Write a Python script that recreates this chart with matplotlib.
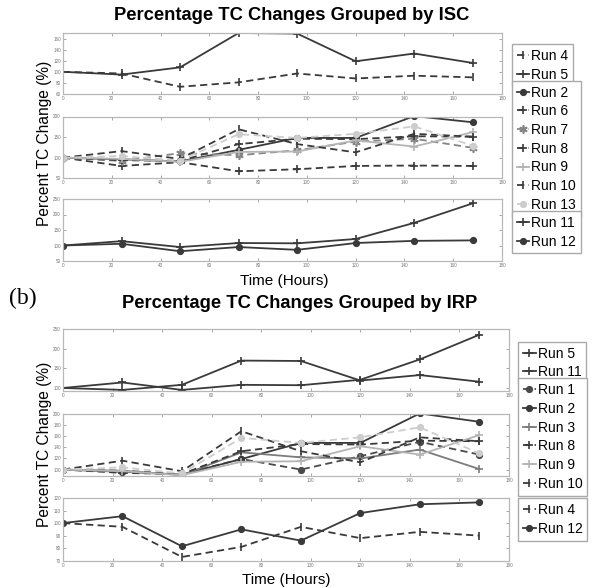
import matplotlib
matplotlib.use('Agg')
import matplotlib.pyplot as plt
import numpy as np

plt.rcParams['font.family'] = ['Liberation Sans', 'DejaVu Sans']

# sampling times (hours)
hours = [0, 24, 48, 72, 96, 120, 144, 168]

# percent TC change per run
run1 = [100, 98, 92, 119, 100, 124, 150, 127]
run2 = [100, 96, 91, 119, 148, 148, 201, 186]
run3 = [100, 98, 90, 131, 122, 120, 136, 101]
run4 = [100, 97, 73, 81, 97, 88, 93, 90]
run5 = [100, 95, 108, 170, 169, 119, 133, 116]
run6 = [100, 80, 89, 67, 72, 80, 81, 80]
run7 = [100, 92, 111, 106, 118, 139, 146, 124]
run8 = [100, 94, 92, 133, 146, 145, 152, 151]
run9 = [100, 97, 90, 114, 115, 142, 127, 162]
run10 = [100, 116, 97, 169, 133, 113, 158, 151]
run11 = [100, 114, 95, 108, 107, 121, 173, 236]
run12 = [100, 105.5, 81.5, 95, 86, 108, 115, 116.5]
run13 = [100, 104, 93, 157, 148, 158, 176, 129]

runs = {'Run 1': run1, 'Run 2': run2, 'Run 3': run3, 'Run 4': run4,
        'Run 5': run5, 'Run 6': run6, 'Run 7': run7, 'Run 8': run8,
        'Run 9': run9, 'Run 10': run10, 'Run 11': run11,
        'Run 12': run12, 'Run 13': run13}

# groupings
isc_groups = [['Run 4', 'Run 5'],
              ['Run 2', 'Run 6', 'Run 7', 'Run 8', 'Run 9', 'Run 10', 'Run 13'],
              ['Run 11', 'Run 12']]
irp_groups = [['Run 5', 'Run 11'],
              ['Run 1', 'Run 2', 'Run 3', 'Run 8', 'Run 9', 'Run 10', 'Run 13'],
              ['Run 4', 'Run 12']]

DASH = (0, (4, 2.4))
DARK = '#3a3a3a'
styles = {
    'Run 1': dict(color='#4a4a4a', ls=DASH, marker='o'),
    'Run 2': dict(color=DARK, ls='-', marker='o'),
    'Run 3': dict(color='#7c7c7c', ls='-', marker='+'),
    'Run 4': dict(color=DARK, ls=DASH, marker='|'),
    'Run 5': dict(color=DARK, ls='-', marker='+'),
    'Run 6': dict(color=DARK, ls=DASH, marker='+'),
    'Run 7': dict(color='#858585', ls=DASH, marker=(6, 2, 0)),
    'Run 8': dict(color=DARK, ls=DASH, marker='+'),
    'Run 9': dict(color='#b4b4b4', ls='-', marker='+'),
    'Run 10': dict(color=DARK, ls=DASH, marker='|'),
    'Run 11': dict(color=DARK, ls='-', marker='+'),
    'Run 12': dict(color=DARK, ls='-', marker='o'),
    'Run 13': dict(color='#cdcdcd', ls=DASH, marker='o'),
}

W, H = 597, 588
fig = plt.figure(figsize=(W / 100, H / 100), dpi=100)


def px_axes(l, t, r, b):
    return fig.add_axes([l / W, 1 - b / H, (r - l) / W, (b - t) / H])


def draw_panel(ax, names, ylim, yticks, leg_xy, hidden=()):
    for n in names:
        st = styles[n]
        ms = 4 if st['marker'] == 'o' else 6
        lab = '_' + n if n in hidden else n
        ax.plot(hours, runs[n], color=st['color'], ls=st['ls'], lw=1.3,
                marker=st['marker'], ms=ms, mew=1.2, label=lab)
    ax.set_xlim(0, 180)
    ax.set_xticks(np.arange(0, 181, 20))
    ax.set_ylim(*ylim)
    ax.set_yticks(yticks)
    ax.tick_params(direction='in', length=2.5, width=0.6, top=True, right=True,
                   labelsize=3.3, labelcolor='#777777', color='#999999', pad=1.5)
    for sp in ax.spines.values():
        sp.set_color('#b8b8b8')
        sp.set_linewidth(0.9)
    ax.legend(loc='upper left', bbox_to_anchor=(leg_xy[0] / W, 1 - leg_xy[1] / H),
              bbox_transform=fig.transFigure, borderaxespad=0, fontsize=10,
              fancybox=False, framealpha=1, edgecolor='#aaaaaa',
              borderpad=0.35, handlelength=0.9, handletextpad=0.15,
              labelspacing=0.34)


# (a) grouped by ISC
a_top = px_axes(63, 33, 502, 94)
a_mid = px_axes(63, 116.5, 502, 178.3)
a_bot = px_axes(63, 199, 502, 261)
draw_panel(a_top, isc_groups[0], (60, 170), np.arange(60, 161, 20), (511.7, 44))
draw_panel(a_mid, isc_groups[1], (50, 200), [50, 100, 150, 200], (511.7, 80.7))
draw_panel(a_bot, isc_groups[2], (50, 250), np.arange(50, 251, 50), (511.7, 211))

# (b) grouped by IRP (Run 13's legend entry sits under the last legend box)
b_top = px_axes(63, 329.3, 509, 390.7)
b_mid = px_axes(63, 414, 509, 475.7)
b_bot = px_axes(63, 498, 509, 560.7)
draw_panel(b_top, irp_groups[0], (93, 250), [100, 150, 200, 250], (518.3, 341.7))
draw_panel(b_mid, irp_groups[1], (89, 200), np.arange(100, 201, 20), (518.3, 378.3),
           hidden=('Run 13',))
draw_panel(b_bot, irp_groups[2], (70, 120), np.arange(70, 121, 10), (518.3, 498.3))

fig.text(292 / W, 1 - 16 / H, 'Percentage TC Changes Grouped by ISC',
         ha='center', va='center', fontsize=13.2, fontweight='bold')
fig.text(300 / W, 1 - 304 / H, 'Percentage TC Changes Grouped by IRP',
         ha='center', va='center', fontsize=13.2, fontweight='bold')
fig.text(23 / W, 1 - 298 / H, '(b)', ha='center', va='center', fontsize=17,
         family=['Liberation Serif', 'DejaVu Serif'])

fig.text(45 / W, 1 - 143.5 / H, 'Percent TC Change (%)', rotation=90,
         ha='center', va='center', fontsize=11.2)
fig.text(45 / W, 1 - 444 / H, 'Percent TC Change (%)', rotation=90,
         ha='center', va='center', fontsize=11.2)
fig.text(284 / W, 1 - 281 / H, 'Time (Hours)', ha='center', va='center',
         fontsize=11)
fig.text(286 / W, 1 - 580 / H, 'Time (Hours)', ha='center', va='center',
         fontsize=11)

fig.savefig('out.png', dpi=100)
